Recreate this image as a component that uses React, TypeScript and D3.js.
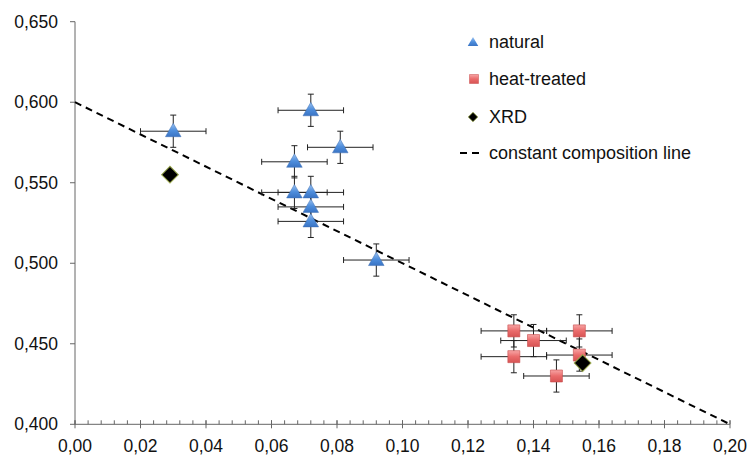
import React, { useEffect, useRef } from 'react';
import * as d3 from 'd3';

// values
const naturalX = [0.03, 0.072, 0.081, 0.067, 0.067, 0.072, 0.072, 0.072, 0.092];
const naturalY = [0.582, 0.595, 0.572, 0.563, 0.544, 0.544, 0.535, 0.526, 0.502];
const heatX = [0.134, 0.14, 0.154, 0.134, 0.154, 0.147];
const heatY = [0.458, 0.452, 0.458, 0.442, 0.443, 0.43];
const xrdX = [0.029, 0.155];
const xrdY = [0.555, 0.438];
const errX = 0.01;
const errY = 0.01;
const lineX = [0, 0.2];
const lineY = [0.6, 0.4];
const xTicks = [0, 0.02, 0.04, 0.06, 0.08, 0.1, 0.12, 0.14, 0.16, 0.18, 0.2];
const yTicks = [0.4, 0.45, 0.5, 0.55, 0.6, 0.65];
const legendLabels = ['natural', 'heat-treated', 'XRD', 'constant composition line'];

const W = 748;
const H = 457;
const FONT = 'Liberation Sans, Arial, sans-serif';

export default function App() {
  const svgRef = useRef<SVGSVGElement>(null);

  useEffect(() => {
    const svg = d3.select(svgRef.current).html(null);

    const x = d3.scaleLinear().domain([0, 0.2]).range([75, 730]);
    const y = d3.scaleLinear().domain([0.4, 0.65]).range([424.3, 21.7]);
    const fmtX = (v: number) => d3.format('.2f')(v).replace('.', ',');
    const fmtY = (v: number) => d3.format('.3f')(v).replace('.', ',');

    const defs = svg.append('defs');
    const blue = defs.append('linearGradient').attr('id', 'gBlue').attr('x1', 0).attr('y1', 0).attr('x2', 0).attr('y2', 1);
    blue.append('stop').attr('offset', '0%').attr('stop-color', '#9cc2f0');
    blue.append('stop').attr('offset', '55%').attr('stop-color', '#4d8ddc');
    blue.append('stop').attr('offset', '100%').attr('stop-color', '#3a74c4');
    const red = defs.append('linearGradient').attr('id', 'gRed').attr('x1', 0).attr('y1', 0).attr('x2', 0).attr('y2', 1);
    red.append('stop').attr('offset', '0%').attr('stop-color', '#f7a5a5');
    red.append('stop').attr('offset', '50%').attr('stop-color', '#ea6b6b');
    red.append('stop').attr('offset', '100%').attr('stop-color', '#d75454');

    // axes
    const axisColor = '#666';
    svg.append('line').attr('x1', x(0)).attr('x2', x(0.2)).attr('y1', y(0.4)).attr('y2', y(0.4))
      .attr('stroke', axisColor);
    svg.append('line').attr('x1', x(0)).attr('x2', x(0)).attr('y1', y(0.4)).attr('y2', y(0.65))
      .attr('stroke', axisColor);

    // minor x ticks every 0.004
    const minor = d3.range(0, 51).map((i) => i * 0.004);
    svg.selectAll('.minor').data(minor).join('line')
      .attr('x1', (d) => x(d)).attr('x2', (d) => x(d))
      .attr('y1', y(0.4) - 4).attr('y2', y(0.4))
      .attr('stroke', axisColor);
    svg.selectAll('.xmajor').data(xTicks).join('line')
      .attr('x1', (d) => x(d)).attr('x2', (d) => x(d))
      .attr('y1', y(0.4) - 4).attr('y2', y(0.4) + 4)
      .attr('stroke', axisColor);
    svg.selectAll('.xlab').data(xTicks).join('text')
      .attr('x', (d) => x(d)).attr('y', 452)
      .attr('text-anchor', 'middle')
      .attr('font-family', FONT).attr('font-size', 17.5).attr('fill', '#111')
      .text((d) => fmtX(d));

    svg.selectAll('.ymajor').data(yTicks).join('line')
      .attr('x1', x(0) - 5).attr('x2', x(0))
      .attr('y1', (d) => y(d)).attr('y2', (d) => y(d))
      .attr('stroke', axisColor);
    svg.selectAll('.ylab').data(yTicks).join('text')
      .attr('x', 58).attr('y', (d) => y(d) + 6)
      .attr('text-anchor', 'end')
      .attr('font-family', FONT).attr('font-size', 17.5).attr('fill', '#111')
      .text((d) => fmtY(d));

    // constant composition line
    svg.append('path')
      .attr('d', d3.line<number>().x((d) => x(d)).y((_, i) => y(lineY[i]))(lineX))
      .attr('stroke', '#000').attr('stroke-width', 2).attr('stroke-dasharray', '7,5')
      .attr('fill', 'none');

    // error bars
    const errPts = [
      ...naturalX.map((v, i) => [v, naturalY[i]]),
      ...heatX.map((v, i) => [v, heatY[i]]),
    ];
    const eb = svg.append('g').attr('stroke', '#222').attr('stroke-width', 1);
    errPts.forEach(([px, py]) => {
      const cx = x(px);
      const cy = y(py);
      const l = x(px - errX);
      const r = x(px + errX);
      const t = y(py + errY);
      const b = y(py - errY);
      eb.append('line').attr('x1', l).attr('x2', r).attr('y1', cy).attr('y2', cy);
      eb.append('line').attr('x1', l).attr('x2', l).attr('y1', cy - 3).attr('y2', cy + 3);
      eb.append('line').attr('x1', r).attr('x2', r).attr('y1', cy - 3).attr('y2', cy + 3);
      eb.append('line').attr('x1', cx).attr('x2', cx).attr('y1', t).attr('y2', b);
      eb.append('line').attr('x1', cx - 3).attr('x2', cx + 3).attr('y1', t).attr('y2', t);
      eb.append('line').attr('x1', cx - 3).attr('x2', cx + 3).attr('y1', b).attr('y2', b);
    });

    const tri = d3.symbol(d3.symbolTriangle, 105);
    const sq = d3.symbol(d3.symbolSquare, 144);
    const dia = d3.symbol(d3.symbolSquare, 140);

    svg.selectAll('.nat').data(naturalX).join('path')
      .attr('d', tri())
      .attr('transform', (d, i) => `translate(${x(d)},${y(naturalY[i]) + 1})`)
      .attr('fill', 'url(#gBlue)').attr('stroke', '#3d6fb5').attr('stroke-width', 0.5);

    svg.selectAll('.heat').data(heatX).join('path')
      .attr('d', sq())
      .attr('transform', (d, i) => `translate(${x(d)},${y(heatY[i])})`)
      .attr('fill', 'url(#gRed)').attr('stroke', '#c84a4a').attr('stroke-width', 0.6);

    svg.selectAll('.xrd').data(xrdX).join('path')
      .attr('d', dia())
      .attr('transform', (d, i) => `translate(${x(d)},${y(xrdY[i])}) rotate(45)`)
      .attr('fill', '#000').attr('stroke', '#9aa84e').attr('stroke-width', 1);

    // legend
    const lg = svg.append('g');
    const ly = [42, 79, 117, 153];
    lg.append('path').attr('d', d3.symbol(d3.symbolTriangle, 48)())
      .attr('transform', `translate(473,${ly[0] + 1})`).attr('fill', 'url(#gBlue)');
    lg.append('path').attr('d', d3.symbol(d3.symbolSquare, 81)())
      .attr('transform', `translate(474,${ly[1]})`).attr('fill', 'url(#gRed)')
      .attr('stroke', '#c84a4a').attr('stroke-width', 0.5);
    lg.append('path').attr('d', d3.symbol(d3.symbolSquare, 45)())
      .attr('transform', `translate(473,${ly[2]}) rotate(45)`).attr('fill', '#000')
      .attr('stroke', '#9aa84e').attr('stroke-width', 0.8);
    lg.append('line').attr('x1', 460).attr('x2', 484).attr('y1', ly[3]).attr('y2', ly[3])
      .attr('stroke', '#000').attr('stroke-width', 2).attr('stroke-dasharray', '7,5');
    lg.selectAll('text').data(legendLabels).join('text')
      .attr('x', 489).attr('y', (_, i) => ly[i] + 6)
      .attr('font-family', FONT).attr('font-size', 18).attr('fill', '#111')
      .text((d) => d);
  }, []);

  return (
    <svg ref={svgRef} width={W} height={H}
      style={{ position: 'absolute', left: 0, top: 0, background: '#fff' }} />
  );
}
